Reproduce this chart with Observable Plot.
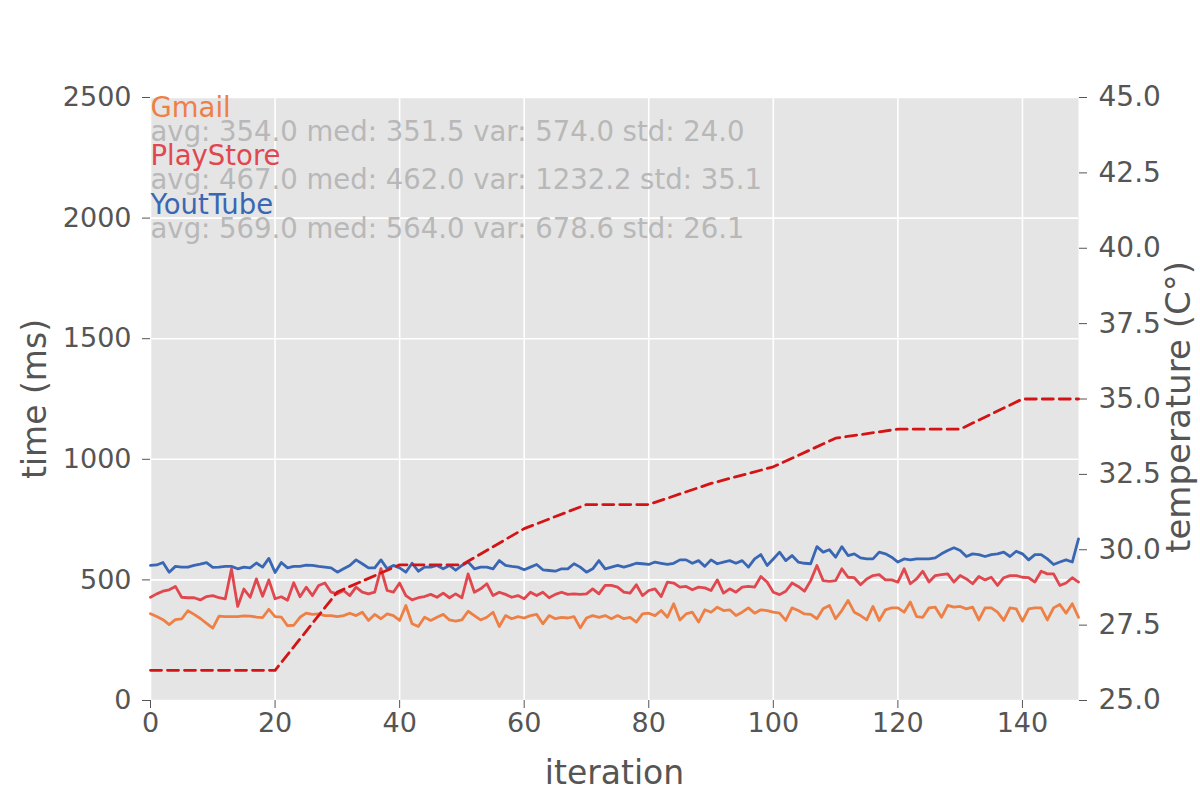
<!DOCTYPE html>
<html><head><meta charset="utf-8">
<script src="https://cdn.jsdelivr.net/npm/d3@7"></script>
<script src="https://cdn.jsdelivr.net/npm/@observablehq/plot@0.6"></script>
<style>body{margin:0;background:#fff;} svg{display:block}</style>
</head><body><div id="chart"></div>
<script>
const iterTicks = [0, 20, 40, 60, 80, 100, 120, 140];
const timeTicks = [0, 500, 1000, 1500, 2000, 2500];
const tempTicks = [25, 27.5, 30, 32.5, 35, 37.5, 40, 42.5, 45];

const gmail = [
 360, 348, 335, 315, 335, 338, 372, 357, 340, 320, 300, 350, 348, 348, 348, 351, 350, 346, 344, 378, 348, 346, 310, 312, 345,
 362, 357, 359, 352, 352, 348, 352, 362, 352, 366, 332, 357, 339, 359, 352, 332, 394, 318, 307, 345, 332, 345, 357, 334, 329,
 334, 370, 352, 334, 345, 366, 307, 352, 339, 348, 342, 352, 357, 318, 352, 339, 345, 342, 348, 301, 342, 352, 345, 352,
 339, 352, 339, 345, 325, 359, 362, 352, 373, 345, 401, 334, 359, 366, 325, 376, 366, 387, 373, 376, 352, 366, 384, 362, 376,
 373, 366, 362, 332, 384, 373, 359, 357, 339, 380, 394, 339, 373, 415, 366, 352, 334, 390, 332, 376, 384, 384, 366, 408, 348,
 345, 384, 387, 345, 394, 387, 390, 380, 387, 334, 384, 384, 366, 332, 384, 380, 329, 380, 384, 384, 334, 384, 398, 362, 401, 345
];
const playstore = [
 428, 442, 453, 459, 473, 428, 426, 426, 417, 431, 435, 426, 421, 545, 390, 462, 428, 504, 432, 500, 422, 430, 416, 488, 430,
 470, 435, 477, 487, 449, 442, 456, 435, 470, 449, 442, 449, 547, 456, 449, 487, 435, 417, 426, 431, 440, 428, 445, 426, 442,
 426, 525, 449, 463, 484, 435, 449, 440, 428, 435, 422, 449, 435, 449, 426, 440, 449, 440, 442, 440, 442, 463, 442, 477,
 477, 470, 449, 445, 480, 435, 456, 463, 431, 491, 487, 470, 473, 459, 470, 467, 456, 500, 445, 463, 449, 470, 473, 470, 514,
 491, 449, 439, 453, 487, 473, 453, 497, 560, 497, 494, 497, 546, 511, 509, 480, 504, 518, 522, 500, 500, 491, 546, 484, 504,
 536, 491, 518, 522, 525, 491, 518, 504, 484, 514, 500, 511, 477, 509, 518, 518, 511, 509, 491, 536, 525, 525, 477, 487, 509, 491
];
const youtube = [
 560, 562, 572, 532, 556, 553, 553, 560, 565, 572, 552, 553, 556, 556, 546, 553, 550, 570, 553, 589, 531, 572, 550, 556, 556,
 561, 560, 556, 553, 550, 532, 546, 560, 583, 567, 550, 550, 583, 546, 560, 550, 532, 569, 536, 553, 553, 560, 546, 560, 540,
 560, 574, 546, 553, 553, 546, 580, 560, 556, 553, 542, 553, 564, 542, 539, 536, 546, 546, 567, 553, 532, 546, 580, 546,
 553, 560, 553, 560, 569, 567, 564, 574, 569, 564, 569, 583, 583, 569, 580, 556, 583, 567, 574, 580, 569, 580, 553, 587, 605,
 560, 587, 615, 580, 601, 574, 569, 567, 638, 615, 625, 594, 638, 601, 608, 591, 587, 587, 615, 608, 594, 574, 587, 583, 587,
 587, 587, 591, 608, 622, 633, 622, 597, 608, 605, 597, 605, 608, 615, 597, 619, 608, 583, 605, 605, 587, 564, 574, 583, 574, 670
];

const tempIter = [0, 10, 20, 30, 40, 50, 60, 70, 80, 90, 100, 110, 120, 130, 140, 149];
const tempValues = [26, 26, 26, 28.6, 29.5, 29.5, 30.7, 31.5, 31.5, 32.2, 32.75, 33.7, 34, 34, 35, 35];

const seriesNames = ["Gmail", "PlayStore", "YoutTube"];
const seriesStats = [
  "avg: 354.0 med: 351.5 var: 574.0 std: 24.0",
  "avg: 467.0 med: 462.0 var: 1232.2 std: 35.1",
  "avg: 569.0 med: 564.0 var: 678.6 std: 26.1"
];
const seriesColors = ["#EE7F45", "#E0474E", "#3A67B4"];
const seriesData = [gmail, playstore, youtube];

// temperature axis (25..45) mapped onto time axis (0..2500)
const toMs = t => (t - 25) * 125;
const fromMs = v => 25 + v / 125;

const inkGray = "#555555";
const tickFont = 27;
const marks = [
  Plot.frame({fill: "#E5E5E5", stroke: null}),
  Plot.gridX(iterTicks, {stroke: "#ffffff", strokeOpacity: 1, strokeWidth: 1.6}),
  Plot.gridY(timeTicks, {stroke: "#ffffff", strokeOpacity: 1, strokeWidth: 1.6}),
  Plot.axisX(iterTicks, {tickSize: 8, tickPadding: 4, color: inkGray, fontSize: tickFont, label: null, tickFormat: d => String(d)}),
  Plot.axisY(timeTicks, {anchor: "left", tickSize: 8, tickPadding: 11, color: inkGray, fontSize: tickFont, label: null, tickFormat: d => String(d)}),
  Plot.axisY(tempTicks.map(toMs), {anchor: "right", tickSize: 8, tickPadding: 12, color: inkGray, fontSize: 28, label: null,
    tickFormat: v => fromMs(v).toFixed(1)})
];
seriesData.forEach((vals, k) => {
  marks.push(Plot.lineY(vals, {stroke: seriesColors[k], strokeWidth: 2.8}));
});
marks.push(Plot.line(tempIter, {x: d => d, y: (d, i) => toMs(tempValues[i]), stroke: "#D41414", strokeWidth: 2.8, strokeDasharray: "11,6"}));
seriesNames.forEach((name, k) => {
  marks.push(Plot.text([name], {x: 0, y: 2500 - 200 * k, text: d => d, fill: seriesColors[k], textAnchor: "start", lineAnchor: "top", fontSize: 27.5}));
  marks.push(Plot.text([seriesStats[k]], {x: 0, y: 2400 - 200 * k, text: d => d, fill: "#B8B8B8", textAnchor: "start", lineAnchor: "top", fontSize: 27.5}));
});
marks.push(Plot.text(["time (ms)"], {frameAnchor: "left", textAnchor: "middle", lineAnchor: "middle", dx: -115, rotate: -90, fontSize: 33, fill: inkGray}));
marks.push(Plot.text(["temperature (C°)"], {frameAnchor: "right", textAnchor: "middle", lineAnchor: "middle", dx: 101, dy: 8, rotate: -90, fontSize: 34, fill: inkGray}));
marks.push(Plot.text(["iteration"], {frameAnchor: "bottom", textAnchor: "middle", lineAnchor: "middle", dy: 73, fontSize: 33, fill: inkGray}));

const chart = Plot.plot({
  width: 1200, height: 800,
  marginLeft: 150, marginRight: 122, marginTop: 97, marginBottom: 100,
  style: {fontFamily: "DejaVu Sans", fontSize: "27px", background: "#ffffff", color: inkGray},
  x: {domain: [0, 149]},
  y: {domain: [0, 2500]},
  marks
});
document.getElementById("chart").appendChild(chart);
</script>
</body></html>
